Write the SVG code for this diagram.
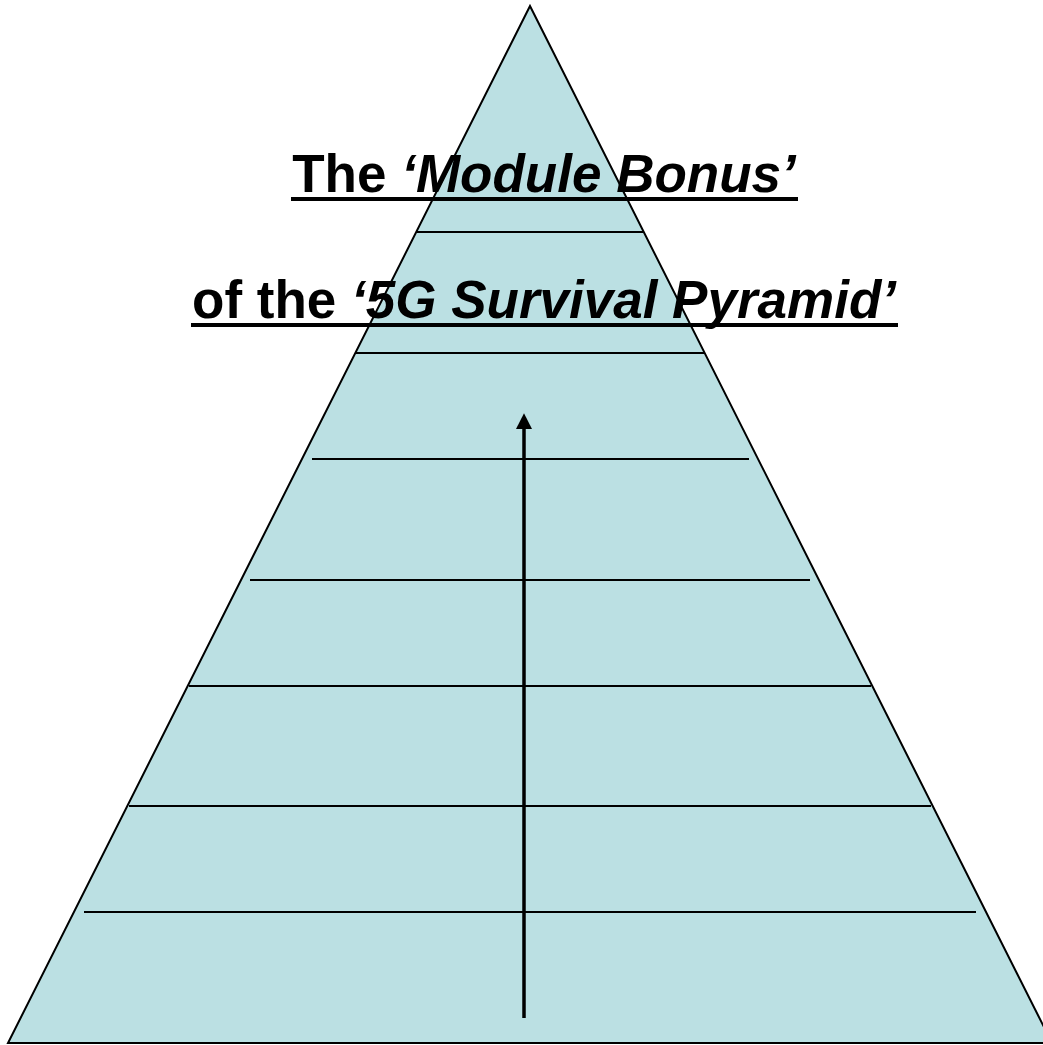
<svg xmlns="http://www.w3.org/2000/svg" width="1043" height="1045" viewBox="0 0 1043 1045">
  <style>
    .tier { stroke: #000; stroke-width: 2; }
    .title { font-family: "Liberation Sans", Arial, sans-serif; font-size: 53px; font-weight: bold; fill: #000; }
    .it { font-style: italic; }
  </style>
  <defs>
    <marker id="arrow" markerWidth="4.5" markerHeight="4.6" refX="0" refY="2.3" orient="auto" markerUnits="strokeWidth">
      <path d="M0,0 L4.5,2.3 L0,4.6 Z" fill="#000"/>
    </marker>
  </defs>
  <rect width="1043" height="1045" fill="#fff"/>
  <g id="pyramid">
    <polygon points="530,6 8,1043 1052,1043" fill="#BBE0E3" stroke="#000" stroke-width="2"/>
  </g>
  <g id="tiers">
    <line class="tier" x1="417" y1="232" x2="643" y2="232"/>
    <line class="tier" x1="356" y1="353" x2="705" y2="353"/>
    <line class="tier" x1="312" y1="459" x2="749" y2="459"/>
    <line class="tier" x1="250" y1="580" x2="810" y2="580"/>
    <line class="tier" x1="189" y1="686" x2="871" y2="686"/>
    <line class="tier" x1="129" y1="806" x2="931" y2="806"/>
    <line class="tier" x1="84" y1="912" x2="976" y2="912"/>
  </g>
  <g id="title">
    <text class="title" x="544" y="192" text-anchor="middle">The <tspan class="it">‘Module Bonus’</tspan></text>
    <rect x="291" y="197" width="507" height="4" fill="#000"/>
    <text class="title" x="544" y="318" text-anchor="middle">of the <tspan class="it">‘5G Survival Pyramid’</tspan></text>
    <rect x="191" y="323" width="707" height="4" fill="#000"/>
  </g>
  <g id="connectors">
    <line x1="524" y1="1018" x2="524" y2="429" stroke="#000" stroke-width="3.5" marker-end="url(#arrow)"/>
  </g>
</svg>
